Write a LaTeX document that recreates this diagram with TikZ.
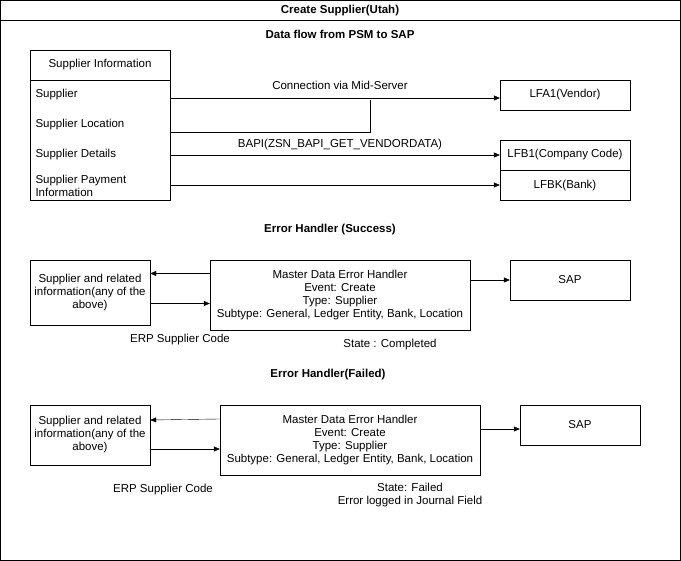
\documentclass[tikz,border=0pt]{standalone}
\usepackage{fontspec}
\setmainfont{Liberation Sans}
\usetikzlibrary{arrows.meta,positioning}
\begin{document}
\begin{tikzpicture}[x=1pt, y=-1pt, font=\fontsize{11.5}{13}\selectfont,
  box/.style={draw, rectangle, inner sep=2pt},
  flow/.style={-{Triangle[length=6pt,width=5pt]}},
  row/.style={anchor=west, align=left, font=\fontsize{11.5}{12.5}\selectfont},
  head/.style={font=\fontsize{11.5}{13}\selectfont\bfseries}]
  \useasboundingbox (0,0) rectangle (681,561);
  % frame and title
  \draw (0.5,0.5) rectangle (680.5,560.5);
  \draw (0.5,20) -- (680.5,20);
  \node[head] (title) at (340,11) {Create Supplier(Utah)};
  \node[head] (flowhd) at (340,34) {Data flow from PSM to SAP};
  % supplier information table
  \draw (30,50) rectangle (170,200);
  \draw (30,80) -- (170,80);
  \node (info) at (100,65) {Supplier Information};
  \node[row] (sup) at (32,95) {Supplier};
  \node[row] (loc) at (32,125) {Supplier Location};
  \node[row] (det) at (32,155) {Supplier Details};
  \node[row] (pay) at (32,186) {Supplier Payment\\Information};
  \coordinate (s1) at (170,98);
  \coordinate (s2) at (170,132);
  \coordinate (s3) at (170,155);
  \coordinate (s4) at (170,185);
  % SAP tables
  \node[box, minimum width=130pt, minimum height=30pt] (lfa) at (565,95) {LFA1(Vendor)};
  \node[box, minimum width=130pt, minimum height=30pt] (lfb) at (565,155) {LFB1(Company Code)};
  \node[box, minimum width=130pt, minimum height=30pt, below=0pt of lfb] (lfbk) {LFBK(Bank)};
  \draw[flow] (s1) -- (lfa.west |- s1);
  \draw (s2) -- (370,132) -- (370,100);
  \draw[flow] (s3) -- (lfb.west |- s3);
  \draw[flow] (s4) -- (lfbk.west |- s4);
  \node (conn) at (340,85) {Connection via Mid-Server};
  \node (bapi) at (340,145) {BAPI(ZSN\_BAPI\_GET\_VENDORDATA)};
  % success
  \node[head] (okhd) at (330,230) {Error Handler (Success)};
  \node[box, minimum width=120pt, minimum height=65pt, align=center] (src1) at (90,292.5)
    {Supplier and related\\information(any of the\\above)};
  \node[box, minimum width=260pt, minimum height=70pt, align=center] (eh1) at (340,295)
    {Master Data Error Handler\\Event: Create\\Type: Supplier\\Subtype: General, Ledger Entity, Bank, Location};
  \node[box, minimum width=120pt, minimum height=40pt] (sap1) at (570,280) {SAP};
  \draw[flow] ([yshift=-11pt]src1.east) -- ([yshift=-11pt]src1.east -| eh1.west);
  \draw[flow] ([yshift=19pt]src1.east -| eh1.west) -- ([yshift=19pt]src1.east);
  \draw[flow] (eh1.east |- sap1) -- (sap1);
  \node (erp1) at (180,340) {ERP Supplier Code};
  \node (st1) at (390,345) {State : Completed};
  % failed
  \node[head] (badhd) at (328,375) {Error Handler(Failed)};
  \node[box, minimum width=120pt, minimum height=60pt, align=center] (src2) at (90,435)
    {Supplier and related\\information(any of the\\above)};
  \node[box, minimum width=260pt, minimum height=70pt, align=center] (eh2) at (350,440)
    {Master Data Error Handler\\Event: Create\\Type: Supplier\\Subtype: General, Ledger Entity, Bank, Location};
  \node[box, minimum width=120pt, minimum height=40pt] (sap2) at (580,425) {SAP};
  \draw[flow] ([yshift=-14pt]src2.east) -- ([yshift=-14pt]src2.east -| eh2.west);
  \draw[flow] ([yshift=16pt]src2.east -| eh2.west) -- ([yshift=15pt]src2.east);
  \draw[flow] ([yshift=-4pt]eh2.east |- sap2) -- ([yshift=-4pt]sap2.west);
  \node (erp2) at (163,490) {ERP Supplier Code};
  \node[align=center] (st2) at (410,495) {State: Failed\\Error logged in Journal Field};
\end{tikzpicture}
\end{document}
